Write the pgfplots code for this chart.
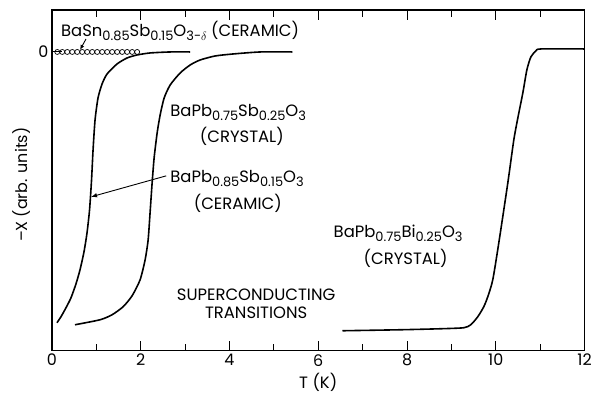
\documentclass[border=0pt]{standalone}
\usepackage{pgfplots}
\pgfplotsset{compat=1.18}
\usepackage{fontspec}
\setmainfont{Poppins}
\usetikzlibrary{arrows.meta}
\newcommand{\sub}[1]{\raisebox{-4bp}{\fontsize{13}{13}\selectfont #1}}
\newcommand{\lab}{\fontsize{16.5}{19}\selectfont}
\begin{document}
\begin{tikzpicture}
\begin{axis}[
  scale only axis, width=533bp, height=341bp,
  xmin=0, xmax=12, ymin=-299, ymax=42,
  xtick={0,2,...,12}, minor xtick={1,3,...,11},
  ytick={0}, yticklabels={0}, ytick pos=left,
  tick align=inside,
  major tick length=10bp, minor tick length=7bp,
  every tick/.style={line width=1bp, black},
  axis line style={line width=1.2bp},
  tick label style={font=\fontsize{16}{19}\selectfont},
  /pgf/number format/assume math mode=true,
  xlabel={T (K)}, xlabel style={font=\lab},
  ylabel={--X (arb. units)},
  ylabel style={font=\fontsize{16}{19}\selectfont, at={(rel axis cs:0,0.487)}, anchor=center, yshift=30bp},
]
% BaPb0.85Sb0.15O3 ceramic
\addplot[line width=1.6bp, black, smooth, tension=0.4] coordinates {
(0.113,-271) (0.203,-265) (0.316,-256) (0.429,-246) (0.542,-232) (0.632,-218)
(0.722,-200) (0.790,-181) (0.847,-158) (0.892,-128) (0.926,-98) (0.971,-68)
(1.038,-46) (1.129,-32) (1.242,-22) (1.467,-12) (1.693,-6) (1.919,-3)
(2.212,-1) (2.664,0) (3.115,0)};
% BaPb0.75Sb0.25O3 crystal
\addplot[line width=1.6bp, black, smooth, tension=0.4] coordinates {
(0.519,-273) (1.084,-268) (1.354,-263) (1.603,-255) (1.806,-244) (1.986,-228)
(2.099,-208) (2.167,-188) (2.212,-160) (2.257,-131) (2.302,-106) (2.370,-81)
(2.438,-63) (2.528,-46) (2.664,-33) (2.889,-21) (3.115,-13) (3.341,-8)
(3.679,-4) (4.086,-2) (4.695,0) (5.418,0)};
% BaPb0.75Bi0.25O3 crystal
\addplot[line width=1.6bp, black, smooth, tension=0.4] coordinates {
(6.546,-279) (7.856,-278) (8.758,-277) (9.278,-276) (9.436,-273) (9.594,-265)
(9.729,-255) (9.819,-245) (9.932,-228) (10.068,-191) (10.271,-131) (10.406,-88)
(10.497,-66) (10.609,-41) (10.700,-18) (10.790,-5) (10.903,1) (11.016,3) (12,3)};
% BaSn0.85Sb0.15O3-delta ceramic (circles)
\addplot[only marks, mark=o, mark size=2.5bp, mark options={line width=0.7bp}, black] coordinates {
(0.12,0) (0.2325,0) (0.345,0) (0.4575,0) (0.57,0) (0.6825,0) (0.795,0) (0.9075,0)
(1.02,0) (1.1325,0) (1.245,0) (1.3575,0) (1.47,0) (1.5825,0) (1.695,0) (1.8075,0) (1.92,0)};
% arrows
\draw[line width=0.9bp, -{Latex[length=6bp,width=4.5bp]}] (axis cs:2.573,-124) -- (axis cs:0.88,-145);
\draw[line width=0.9bp, -{Latex[length=5bp,width=4bp]}] (axis cs:0.767,13) -- (axis cs:0.632,2);
% labels
\node[anchor=base west, font=\lab, inner sep=0pt] at (axis cs:0.203,15)
  {BaSn\sub{0.85}Sb\sub{0.15}O\sub{3-$\delta$} (CERAMIC)};
\node[anchor=base west, font=\lab, inner sep=0pt] at (axis cs:2.664,-65)
  {BaPb\sub{0.75}Sb\sub{0.25}O\sub{3}};
\node[anchor=base, font=\lab, inner sep=0pt] at (axis cs:4.278,-91) {(CRYSTAL)};
\node[anchor=base west, font=\lab, inner sep=0pt] at (axis cs:2.664,-131)
  {BaPb\sub{0.85}Sb\sub{0.15}O\sub{3}};
\node[anchor=base, font=\lab, inner sep=0pt] at (axis cs:4.187,-158) {(CERAMIC)};
\node[anchor=base west, font=\lab, inner sep=0pt] at (axis cs:6.343,-186)
  {BaPb\sub{0.75}Bi\sub{0.25}O\sub{3}};
\node[anchor=base, font=\lab, inner sep=0pt] at (axis cs:7.968,-213) {(CRYSTAL)};
\node[anchor=base, font=\lab, inner sep=0pt] at (axis cs:4.6,-249) {SUPERCONDUCTING};
\node[anchor=base, font=\lab, inner sep=0pt] at (axis cs:4.6,-267) {TRANSITIONS};
\coordinate (bl) at (rel axis cs:0,0);
\coordinate (tr) at (rel axis cs:1,1);
\end{axis}
\path (bl) ++(-52bp,-49bp) rectangle ([shift={(10bp,10bp)}]tr);
\end{tikzpicture}
\end{document}
